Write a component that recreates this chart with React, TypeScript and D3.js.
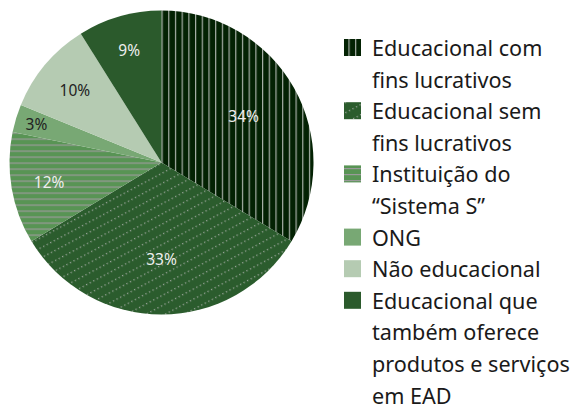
import React from "react";
import * as d3 from "d3";

const categories = [
  "Educacional com fins lucrativos",
  "Educacional sem fins lucrativos",
  "Instituição do “Sistema S”",
  "ONG",
  "Não educacional",
  "Educacional que também oferece produtos e serviços em EAD",
];
const values = [34, 33, 12, 3, 10, 9];
const legendLines = [
  ["Educacional com", "fins lucrativos"],
  ["Educacional sem", "fins lucrativos"],
  ["Instituição do", "“Sistema S”"],
  ["ONG"],
  ["Não educacional"],
  ["Educacional que", "também oferece", "produtos e serviços", "em EAD"],
];
const fills = ["url(#pVert)", "url(#pDots)", "url(#pHoriz)", "#78a874", "#b5cbb2", "#2b5a2c"];
const labelColors = ["#eee", "#eee", "#eee", "#222", "#222", "#eee"];
// label distance from centre, as fraction of radius (best-fit placement)
const labelPos = [0.62, 0.635, 0.75, 0.86, 0.745, 0.77];

export default function App() {
  const width = 577;
  const height = 406;
  const cx = 161.5;
  const cy = 162.5;
  const r = 152;

  const pie = d3.pie<number>().sort(null).value((d) => d);
  const arcs = pie(values);
  const arc = d3.arc<d3.PieArcDatum<number>>().innerRadius(0).outerRadius(r);

  const lineH = 31.6;
  let row = 0;
  const legend = legendLines.map((lines, i) => {
    const start = row;
    row += lines.length;
    return { i, lines, start };
  });

  return (
    <svg width={width} height={height} style={{ position: "absolute", left: 0, top: 0 }}>
      <defs>
        <pattern id="pVert" patternUnits="userSpaceOnUse" width={6.7} height={10}>
          <rect width={6.7} height={10} fill="#032203" />
          <rect x={0} width={1.2} height={10} fill="#a8b0a8" />
        </pattern>
        <pattern id="pHoriz" patternUnits="userSpaceOnUse" width={10} height={6}>
          <rect width={10} height={6} fill="#589454" />
          <rect y={0} width={10} height={1.2} fill="#9a9a9a" />
        </pattern>
        <pattern
          id="pDots"
          patternUnits="userSpaceOnUse"
          width={8}
          height={9}
          patternTransform="rotate(-28)"
        >
          <rect width={8} height={9} fill="#2b5c2d" />
          <rect x={0} y={0} width={1.3} height={1.3} fill="#9aa59a" />
          <rect x={4} y={0} width={1.3} height={1.3} fill="#9aa59a" />
        </pattern>
      </defs>
      <g transform={`translate(${cx},${cy})`}>
        {arcs.map((a, i) => (
          <path key={categories[i]} d={arc(a) || ""} fill={fills[i]} />
        ))}
        {arcs.map((a, i) => {
          const lr = r * labelPos[i];
          const [x, y] = d3.arc<d3.PieArcDatum<number>>().innerRadius(lr).outerRadius(lr).centroid(a);
          return (
            <text
              key={"l" + i}
              x={x}
              y={y}
              textAnchor="middle"
              dominantBaseline="central"
              fontFamily="'Noto Sans', sans-serif"
              fontSize={15.5}
              fill={labelColors[i]}
            >
              {values[i]}%
            </text>
          );
        })}
      </g>
      <g fontFamily="'Noto Sans', sans-serif" fontSize={21.6} fill="#1a1a1a">
        {legend.map(({ i, lines, start }) => {
          const y0 = 47.5 + start * lineH;
          return (
            <g key={"lg" + i}>
              <rect x={344} y={y0 - 8.5} width={17} height={17} fill={fills[i]} />
              {lines.map((t, k) => (
                <text key={k} x={372} y={y0 + k * lineH} dominantBaseline="central">
                  {t}
                </text>
              ))}
            </g>
          );
        })}
      </g>
    </svg>
  );
}
